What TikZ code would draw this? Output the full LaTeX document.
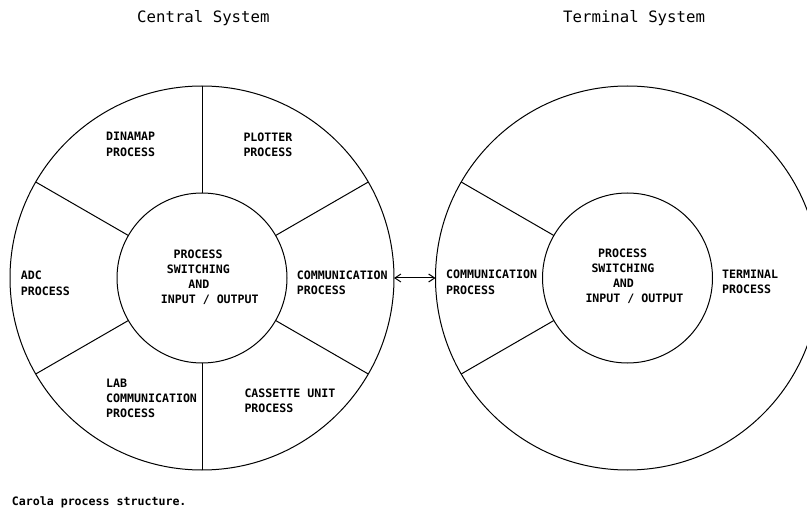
\documentclass[tikz,border=0pt]{standalone}
\usepackage{fontspec}
\newfontfamily\plotfont{DejaVu Sans Mono}
\usetikzlibrary{arrows.meta}
\tikzset{
  ring/.style={circle, draw, line width=1pt, inner sep=0pt, outer sep=0pt},
  spoke/.style={line width=1pt},
  lbl/.style={anchor=north west, inner sep=0pt, align=left,
    font=\plotfont\bfseries\fontsize{11.6}{15.2}\selectfont},
  ttl/.style={anchor=base west, inner sep=0pt,
    font=\plotfont\fontsize{15.7}{18}\selectfont},
  link/.style={line width=1pt, {Straight Barb[length=6pt,width=8pt]}-{Straight Barb[length=6pt,width=8pt]}}
}
\begin{document}
\begin{tikzpicture}[x=1pt,y=-1pt]
\useasboundingbox (0,0) rectangle (807,508);
% titles
\node[ttl] (tc) at (137,22.4) {Central System};
\node[ttl] (tt) at (563,22.4) {Terminal System};
% central system
\node[ring, minimum size=384pt] (Lout) at (202,278) {};
\node[ring, minimum size=170pt] (Lin) at (202,278) {};
\foreach \a in {30,90,150,210,270,330}
  \draw[spoke] (Lin.\a) -- (Lout.\a);
% terminal system
\node[ring, minimum size=384pt] (Rout) at (627.5,278) {};
\node[ring, minimum size=170pt] (Rin) at (627.5,278) {};
\foreach \a in {150,210}
  \draw[spoke] (Rin.\a) -- (Rout.\a);
% link
\draw[link] (Lout.east) -- (Rout.west);
% labels central
\node[lbl] (dina) at (106,132.3) {DINAMAP\\PROCESS};
\node[lbl] (plot) at (243.3,132.3) {PLOTTER\\PROCESS};
\node[lbl] (adc) at (20.7,271) {ADC\\PROCESS};
\node[lbl] (comL) at (296.7,270.4) {COMMUNICATION\\PROCESS};
\node[lbl] (lab) at (106,378.4) {LAB\\COMMUNICATION\\PROCESS};
\node[lbl] (cass) at (244.3,388.8) {CASSETTE UNIT\\PROCESS};
\node[lbl] (psL) at (160.7,249.4) {\hspace*{12.7pt}PROCESS\\\hspace*{6pt}SWITCHING\\\hspace*{27.5pt}AND\\INPUT / OUTPUT};
% labels terminal
\node[lbl] (comR) at (446,270) {COMMUNICATION\\PROCESS};
\node[lbl] (term) at (722,270) {TERMINAL\\PROCESS};
\node[lbl] (psR) at (585.3,248.5) {\hspace*{12.7pt}PROCESS\\\hspace*{6pt}SWITCHING\\\hspace*{27.5pt}AND\\INPUT / OUTPUT};
% caption
\node[anchor=base west, inner sep=0pt, font=\plotfont\bfseries\fontsize{11.6}{14}\selectfont] (cap) at (11.7,505.3) {Carola process structure.};
\end{tikzpicture}
\end{document}
